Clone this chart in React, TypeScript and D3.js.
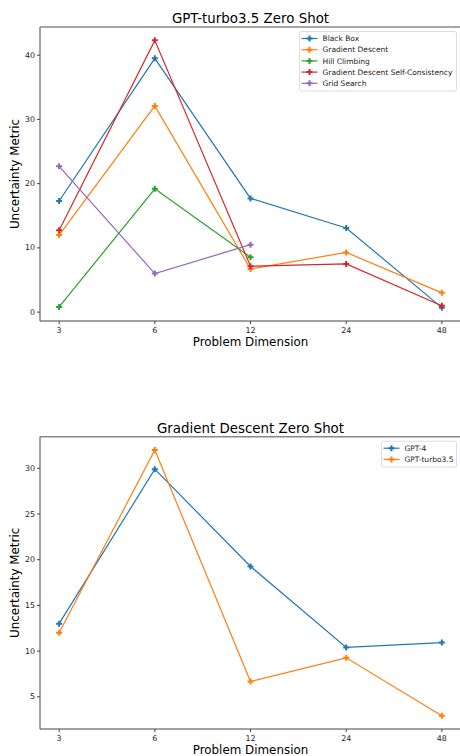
import * as d3 from "d3";

const DIMS = ["3", "6", "12", "24", "48"];

// top panel: GPT-turbo3.5 zero shot
const BLACK_BOX = [17.3, 39.5, 17.7, 13.1, 0.7];
const GRADIENT_DESCENT = [12.0, 32.1, 6.7, 9.3, 3.0];
const HILL_CLIMBING = [0.8, 19.2, 8.55];
const GD_SELF_CONSISTENCY = [12.75, 42.3, 7.15, 7.5, 1.0];
const GRID_SEARCH = [22.7, 6.0, 10.5];

// bottom panel: gradient descent zero shot
const GPT4 = [13.0, 29.9, 19.26, 10.4, 10.93];
const GPT35 = [12.0, 32.0, 6.67, 9.26, 2.93];

const TOP_TICKS = [0, 10, 20, 30, 40];
const BOTTOM_TICKS = [5, 10, 15, 20, 25, 30];

const C = ["#1f77b4", "#ff7f0e", "#2ca02c", "#d62728", "#9467bd"];
const FONT = "DejaVu Sans, sans-serif";

interface Series {
	name: string;
	values: number[];
	color: string;
}

interface PanelProps {
	title: string;
	series: Series[];
	ticks: number[];
	top: number;
	bottom: number;
	legendWidth: number;
}

function Panel({ title, series, ticks, top, bottom, legendWidth }: PanelProps) {
	const left = 40;
	const right = 461;
	const all = series.flatMap((s) => s.values);
	const lo = d3.min(all)!;
	const hi = d3.max(all)!;
	const pad = (hi - lo) * 0.05;

	const x = d3.scaleLinear().domain([-0.2, DIMS.length - 1 + 0.2]).range([left, right]);
	const y = d3.scaleLinear().domain([lo - pad, hi + pad]).range([bottom, top]);

	const line = d3
		.line<number>()
		.x((_, i) => x(i))
		.y((d) => y(d));
	const marker = d3.symbol().type(d3.symbolCross).size(20)();

	const legX = 456.5 - legendWidth;
	const rowH = 11.2;

	return (
		<g>
			<text x={(left + right) / 2} y={top - 4} textAnchor="middle" fontSize={13.4} fill="#000">
				{title}
			</text>
			{series.map((s) => (
				<g key={s.name}>
					<path d={line(s.values) ?? ""} fill="none" stroke={s.color} strokeWidth={1.2} />
					{s.values.map((v, i) => (
						<path key={i} d={marker} transform={`translate(${x(i)},${y(v)})`} fill={s.color} />
					))}
				</g>
			))}
			{/* spines */}
			<line x1={left} x2={left} y1={top} y2={bottom} stroke="#444" strokeWidth={1} />
			<line x1={left} x2={right} y1={bottom} y2={bottom} stroke="#444" strokeWidth={1} />
			<line x1={left} x2={right} y1={top} y2={top} stroke="#888" strokeWidth={1.6} />
			{/* y ticks */}
			{ticks.map((t) => (
				<g key={t} transform={`translate(0,${y(t)})`}>
					<line x1={left - 3} x2={left} stroke="#444" />
					<text x={left - 5} dy="0.32em" textAnchor="end" fontSize={7.9} fill="#222">
						{t}
					</text>
				</g>
			))}
			{/* x ticks */}
			{DIMS.map((d, i) => (
				<g key={d} transform={`translate(${x(i)},0)`}>
					<line y1={bottom} y2={bottom + 3} stroke="#444" />
					<text y={bottom + 12} textAnchor="middle" fontSize={7.9} fill="#222">
						{d}
					</text>
				</g>
			))}
			<text x={(left + right) / 2} y={bottom + 25} textAnchor="middle" fontSize={11.9} fill="#000">
				Problem Dimension
			</text>
			<text
				transform={`translate(19,${(top + bottom) / 2}) rotate(-90)`}
				textAnchor="middle"
				fontSize={11.9}
				fill="#000"
			>
				Uncertainty Metric
			</text>
			{/* legend */}
			<rect
				x={legX}
				y={top + 4.5}
				width={legendWidth}
				height={series.length * rowH + 3.5}
				rx={2}
				fill="#fff"
				fillOpacity={0.85}
				stroke="#ddd"
			/>
			{series.map((s, i) => {
				const ly = top + 11.5 + i * rowH;
				return (
					<g key={s.name}>
						<line x1={legX + 2} x2={legX + 18} y1={ly} y2={ly} stroke={s.color} strokeWidth={1.2} />
						<path d={marker} transform={`translate(${legX + 10},${ly})`} fill={s.color} />
						<text x={legX + 23} y={ly} dy="0.35em" fontSize={7.5} fill="#222">
							{s.name}
						</text>
					</g>
				);
			})}
		</g>
	);
}

export default function App() {
	const topSeries: Series[] = [
		{ name: "Black Box", values: BLACK_BOX, color: C[0] },
		{ name: "Gradient Descent", values: GRADIENT_DESCENT, color: C[1] },
		{ name: "Hill Climbing", values: HILL_CLIMBING, color: C[2] },
		{ name: "Gradient Descent Self-Consistency", values: GD_SELF_CONSISTENCY, color: C[3] },
		{ name: "Grid Search", values: GRID_SEARCH, color: C[4] },
	];
	const bottomSeries: Series[] = [
		{ name: "GPT-4", values: GPT4, color: C[0] },
		{ name: "GPT-turbo3.5", values: GPT35, color: C[1] },
	];

	return (
		<svg
			width={460}
			height={756}
			style={{ position: "absolute", left: 0, top: 0, background: "#fff" }}
			fontFamily={FONT}
		>
			<Panel
				title="GPT-turbo3.5 Zero Shot"
				series={topSeries}
				ticks={TOP_TICKS}
				top={27}
				bottom={321}
				legendWidth={157}
			/>
			<Panel
				title="Gradient Descent Zero Shot"
				series={bottomSeries}
				ticks={BOTTOM_TICKS}
				top={436.7}
				bottom={729}
				legendWidth={75}
			/>
		</svg>
	);
}
